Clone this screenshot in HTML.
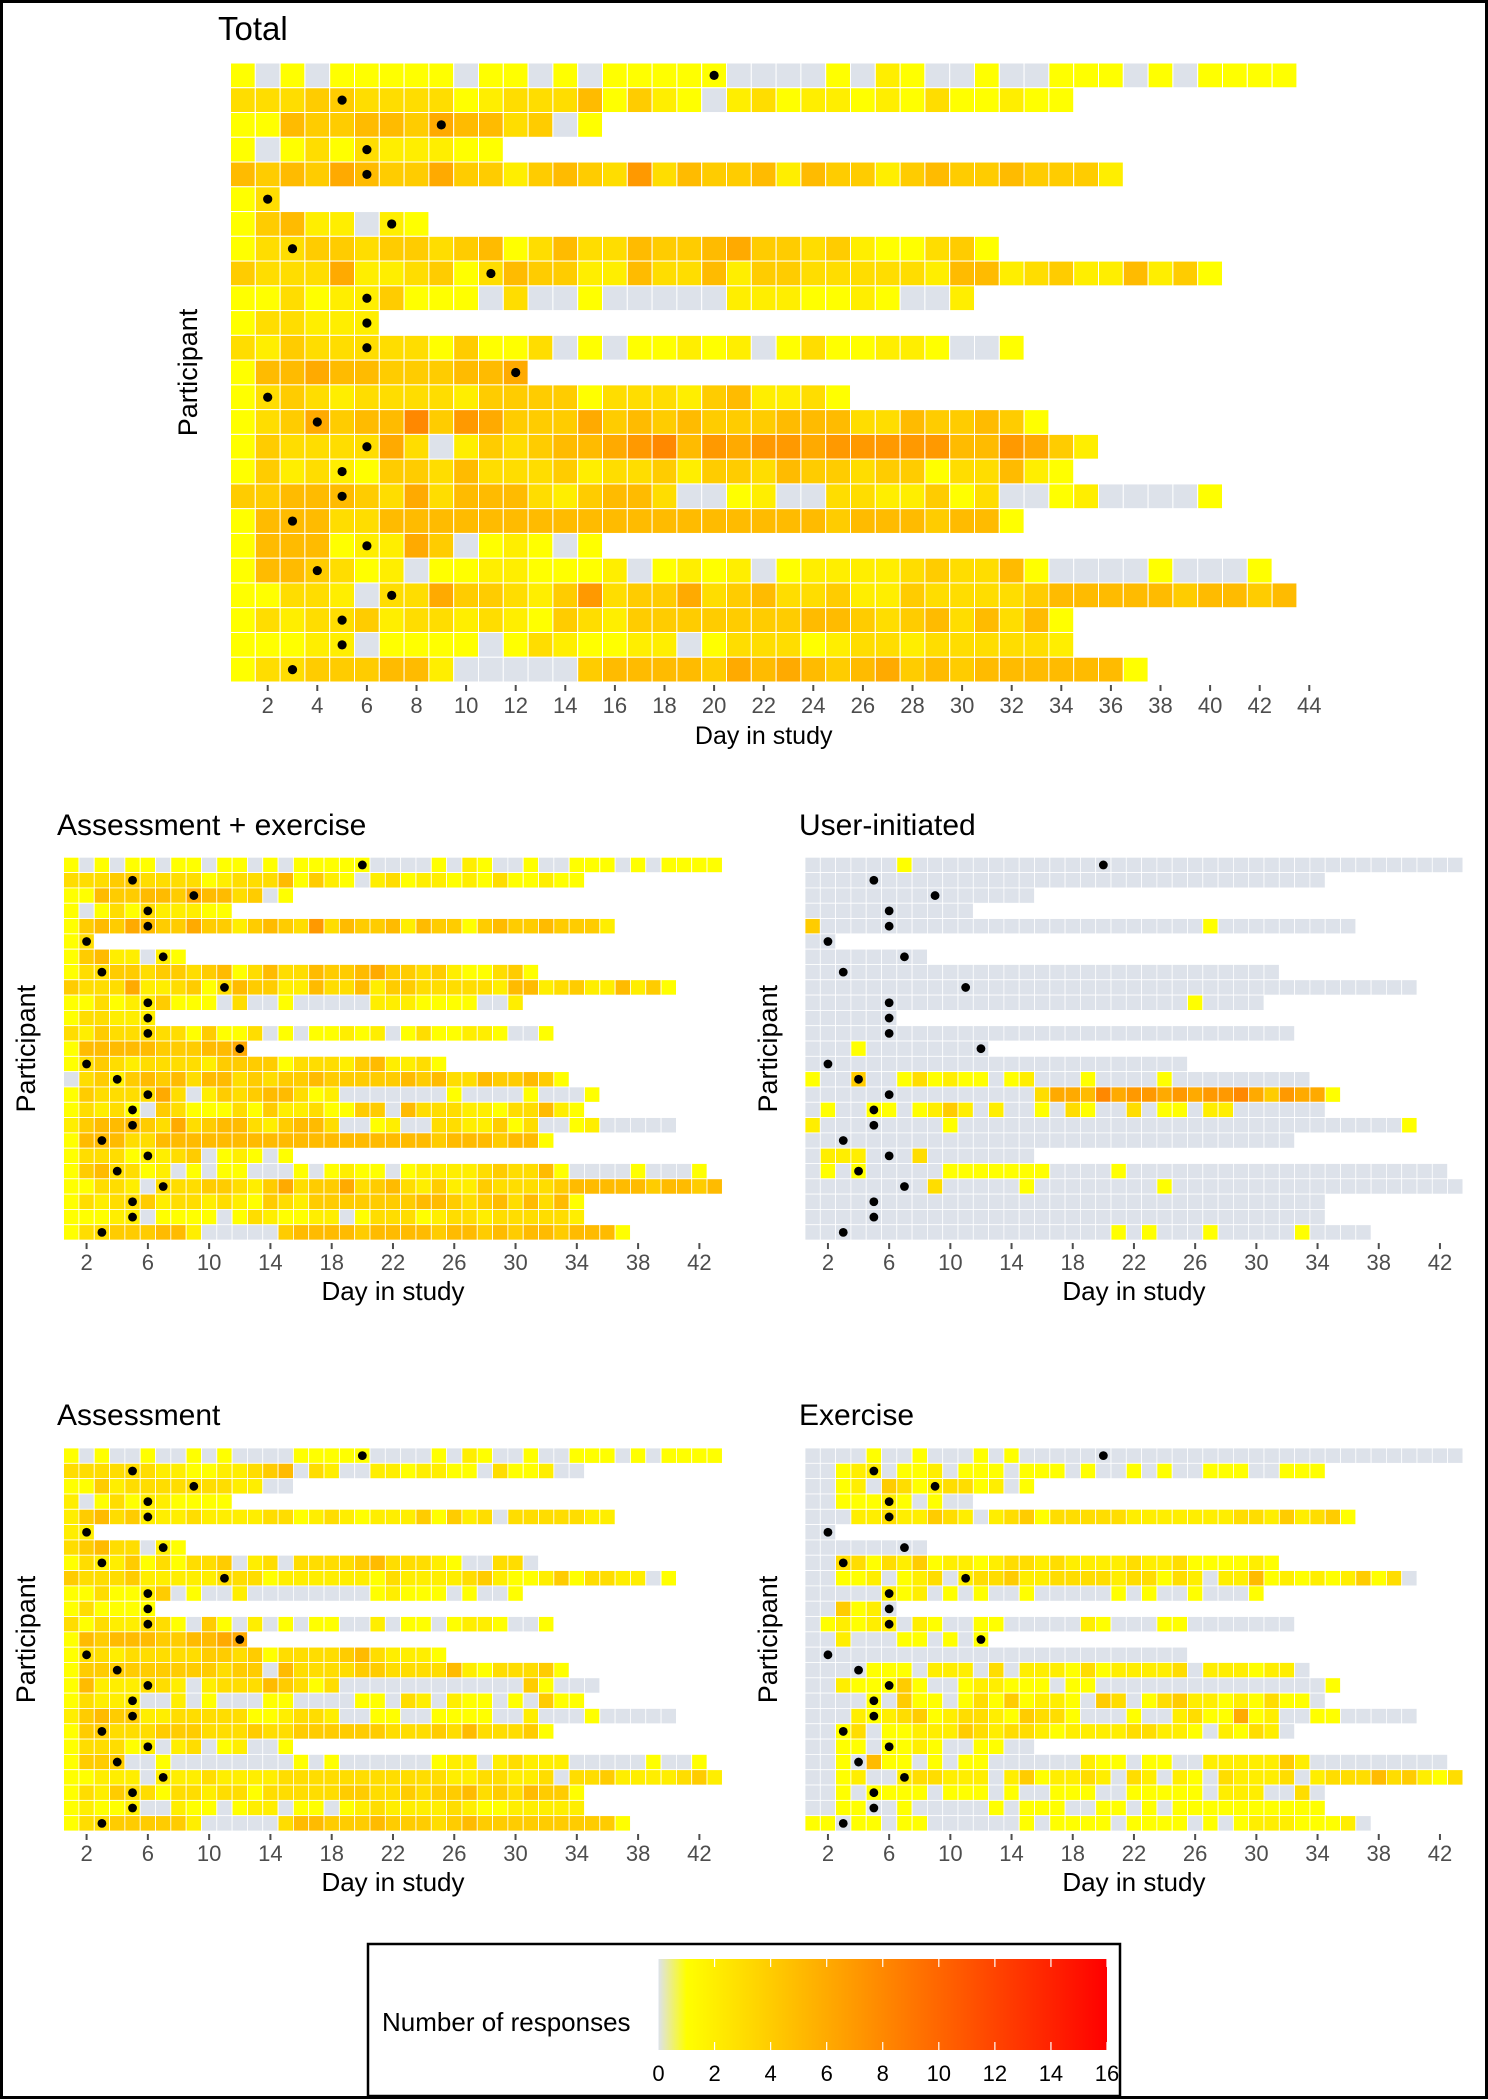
<!DOCTYPE html>
<html><head><meta charset="utf-8"><style>
html,body{margin:0;padding:0;background:#fff;}
svg{display:block;font-family:"Liberation Sans",Arial,sans-serif;}
</style></head><body>
<svg id="chart" width="1488" height="2100" viewBox="0 0 1488 2100" xmlns="http://www.w3.org/2000/svg">
<rect x="1.5" y="1.5" width="1485" height="2096" fill="#fff" stroke="#000" stroke-width="3"/>
<g id="panels"></g>
<g id="legend">
  <defs>
    <linearGradient id="cbar" x1="0" x2="1" y1="0" y2="0">
      <stop offset="0" stop-color="#dde2ea"/>
      <stop offset="0.0625" stop-color="#ffff00"/>
      <stop offset="1" stop-color="#ff0000"/>
    </linearGradient>
  </defs>
  <rect x="368" y="1944" width="752" height="152" fill="#fff" stroke="#000" stroke-width="2.5"/>
  <text x="382" y="2031" font-size="26" fill="#000">Number of responses</text>
  <rect x="658.5" y="1959" width="448.5" height="91" fill="url(#cbar)"/>
  <g id="cbticks"></g>
</g>
</svg>
<script>
// ---- data ----
const dotDays=[20,5,9,6,6,2,7,3,11,6,6,6,12,2,4,6,5,5,3,6,4,7,5,5,3];
const totalRows=[
[1,0,1,0,1,1,1,1,1,0,1,1,0,1,0,1,1,1,1,1,0,0,0,0,1,0,2,1,0,0,1,0,0,1,1,1,0,1,0,1,1,1,1],
[3,3,3,4,4,3,3,3,3,1,2,3,3,3,5,1,4,2,1,0,2,3,1,2,2,1,2,1,3,1,1,2,1,1],
[1,1,5,4,4,5,5,4,6,5,5,3,4,0,1],
[1,0,1,3,1,3,2,2,2,1,1],
[5,4,5,4,6,5,4,4,6,4,4,2,4,5,4,3,7,3,5,4,4,5,2,5,4,4,2,4,5,4,4,5,4,4,4,2],
[1,3],
[1,4,5,2,2,0,2,1],
[1,3,3,4,4,3,4,4,3,4,5,1,3,5,3,3,5,4,4,5,6,4,4,3,4,2,1,1,3,4,1],
[4,3,3,3,6,2,2,3,4,1,3,5,4,4,2,2,5,3,3,5,2,4,4,3,3,3,3,3,2,5,5,2,3,4,2,2,5,2,4,1],
[1,1,3,1,2,2,4,1,1,1,0,3,0,0,1,0,0,0,0,0,2,2,2,1,1,2,1,0,0,2],
[1,3,3,2,2,2],
[3,2,4,3,3,3,3,3,1,4,1,1,3,0,1,0,1,1,2,1,2,0,1,3,1,1,2,2,1,0,0,1],
[1,5,5,6,5,5,4,4,4,5,5,6],
[1,3,4,3,2,3,3,3,3,2,4,4,4,4,1,3,3,3,2,4,5,2,2,3,1],
[1,3,4,6,4,5,5,8,4,7,6,4,4,4,6,4,5,4,5,4,4,4,5,5,5,3,3,5,4,4,5,4,1],
[1,4,3,3,3,3,6,3,0,2,4,3,4,5,5,6,7,8,5,7,6,7,7,6,7,7,7,7,7,5,5,7,6,4,2],
[1,4,2,3,2,1,4,4,3,5,3,3,3,4,2,3,3,4,2,4,4,3,5,4,4,3,4,4,1,3,3,5,2,1],
[4,4,5,5,5,4,3,6,3,5,5,5,3,2,4,5,5,3,0,0,1,2,0,0,3,3,2,2,4,1,3,0,0,1,2,0,0,0,0,1],
[1,5,5,5,3,3,5,5,5,5,5,5,5,5,5,5,5,5,5,5,5,5,5,5,4,5,5,5,4,5,5,1],
[1,5,5,5,1,2,2,6,4,0,1,2,1,0,1],
[1,5,5,4,3,1,2,0,1,1,2,2,1,1,1,2,0,1,2,1,2,0,1,2,2,2,2,3,4,3,3,5,1,0,0,0,0,1,0,0,0,1],
[1,1,3,3,2,0,3,3,6,4,4,3,2,4,7,3,4,4,6,3,4,5,3,3,4,2,2,4,3,3,3,3,4,5,5,5,5,5,4,5,5,4,5],
[1,3,2,3,3,4,2,3,3,2,3,2,1,4,3,2,4,4,4,4,4,4,4,5,5,4,3,4,5,3,5,3,5,1],
[1,1,1,2,2,0,1,1,1,1,0,1,3,2,1,1,2,2,0,1,3,3,3,1,2,3,3,2,3,3,3,3,3,2],
[1,3,3,4,4,4,5,5,2,0,0,0,0,0,4,5,5,5,5,4,6,5,6,5,4,5,6,4,5,4,5,5,5,5,5,5,1]
];
// user-initiated: sparse (row index, day, value)
const uiRow=[0,4,4,9,12,14,14,14,14,14,14,14,14,14,14,14,14,15,15,15,15,15,15,15,15,15,15,15,15,15,15,15,15,15,15,15,15,16,16,16,16,16,16,16,16,16,16,16,16,16,16,16,16,17,17,17,19,19,19,19,20,20,20,20,20,20,20,20,20,20,21,21,21,24,24,24,24];
const uiDay=[7,1,27,26,4,1,4,7,8,9,10,11,12,14,15,19,24,16,17,18,19,20,21,22,23,24,25,26,27,28,29,30,31,32,33,34,35,2,5,6,8,9,10,11,13,16,18,19,22,24,25,27,28,1,10,40,2,3,4,8,2,4,10,11,12,13,14,15,16,21,9,15,24,21,23,27,33];
const uiVal=[1,4,1,1,1,1,4,1,3,1,2,1,1,1,2,1,1,3,6,6,5,8,6,7,7,6,7,6,7,7,8,6,4,7,6,6,1,1,1,1,1,2,4,2,2,1,3,1,3,1,1,2,2,2,1,1,2,2,2,3,1,1,1,1,1,1,1,1,1,1,3,1,1,1,1,1,1];
const assessRows=[
[1,0,1,0,0,1,0,0,1,0,1,0,0,0,0,1,1,1,1,1,0,0,0,0,1,0,2,1,0,0,1,0,0,1,1,1,0,1,0,1,1,1,1],
[3,3,3,3,3,3,2,2,1,1,2,2,3,4,5,0,3,2,0,0,2,2,1,2,2,1,1,0,3,1,1,2,0,0],
[1,1,4,2,3,3,3,3,3,3,3,2,2,0,0],
[2,0,1,3,1,2,2,1,1,1,1],
[2,4,5,3,4,2,2,2,3,2,2,2,2,3,3,1,2,3,2,1,2,2,2,4,1,4,2,3,0,3,3,3,3,3,2,2],
[2,2],
[3,4,5,3,3,0,2,1],
[1,3,2,2,4,1,3,1,3,3,4,0,2,3,0,3,3,3,3,4,5,3,3,3,2,1,0,0,3,3,0],
[4,3,3,3,4,2,2,2,2,2,3,3,3,1,2,2,2,2,2,2,1,3,2,2,2,2,3,4,2,1,1,2,4,1,3,3,2,2,0,1],
[1,1,3,1,1,2,4,0,1,0,0,2,0,0,0,0,0,0,0,0,1,2,1,1,1,0,1,0,0,1],
[1,3,1,1,1,1],
[3,1,3,2,2,3,3,1,0,4,1,0,2,0,1,0,1,1,0,0,2,0,1,1,0,1,2,2,1,0,0,1],
[1,5,4,5,5,5,4,4,5,5,6,6],
[1,3,3,2,3,3,3,3,3,4,4,3,4,1,3,3,3,3,4,5,3,2,2,2,1],
[1,4,4,4,4,4,4,4,4,4,3,4,4,0,5,3,3,3,3,4,4,3,3,3,3,5,2,1,3,3,3,4,1],
[1,5,2,2,2,3,3,2,0,2,3,3,3,5,4,3,1,3,0,0,0,0,0,0,0,0,0,0,0,0,4,1,0,0,0],
[1,3,2,2,2,0,0,2,0,1,0,0,0,1,1,0,0,0,0,1,1,0,3,2,0,2,1,1,0,1,0,4,1,1],
[2,4,5,4,4,2,2,3,3,3,3,3,1,1,2,3,3,2,0,0,1,1,0,0,1,1,1,1,0,0,2,0,0,0,1,0,0,0,0,0],
[1,4,4,3,3,3,4,4,4,3,3,3,4,3,3,4,4,4,4,4,4,3,3,3,4,3,5,3,3,3,4,1],
[1,3,3,3,1,2,0,2,3,0,1,2,0,0,1],
[1,4,4,4,0,0,1,0,0,0,0,0,0,0,0,1,0,1,0,0,0,0,0,0,1,2,2,0,2,3,2,2,2,0,0,0,0,0,1,0,0,1],
[1,1,2,2,2,0,2,2,2,3,2,2,2,2,3,3,3,3,3,3,3,3,3,3,3,2,2,3,3,2,2,3,0,3,3,4,2,2,2,2,3,4,2],
[1,3,2,4,3,3,1,3,3,2,3,3,1,3,3,3,3,3,4,4,3,3,4,3,4,4,5,3,4,3,5,4,4,1],
[1,2,1,1,2,0,0,2,1,1,0,1,2,2,0,1,1,0,1,2,3,2,2,2,2,3,2,1,1,2,2,2,2,2],
[1,3,3,4,4,4,4,4,2,0,0,0,0,0,3,5,5,4,4,4,5,4,4,4,3,4,5,4,4,4,4,4,4,4,4,4,1]
];
const exerciseRows=[
[0,0,0,0,1,0,0,1,0,0,0,1,0,1,0,0,0,0,0,0,0,0,0,0,0,0,0,0,0,0,0,0,0,0,0,0,0,0,0,0,0,0,0],
[0,0,1,2,2,0,1,1,2,0,1,1,1,0,1,1,1,0,1,0,0,1,0,1,0,0,1,1,1,0,0,1,1,1],
[0,0,1,2,0,4,3,1,2,3,3,1,2,0,1],
[0,0,1,1,1,2,1,0,1,0,0],
[0,0,0,2,2,3,2,2,4,3,2,0,2,3,4,1,3,3,3,3,3,2,2,2,2,2,2,2,3,3,2,4,2,3,4,1],
[0,0],
[0,0,0,0,0,0,0,0],
[0,0,3,3,1,3,2,4,1,2,2,1,2,3,3,2,3,2,2,2,2,3,2,2,3,1,1,1,1,2,1],
[0,0,1,1,2,0,1,2,3,0,2,3,3,4,2,2,3,3,3,3,2,3,3,1,3,2,0,2,2,5,1,2,1,2,1,2,4,1,3,0],
[0,0,0,0,0,2,1,2,0,1,0,1,0,0,1,0,0,0,0,0,1,0,1,0,0,1,0,0,0,1],
[0,0,4,1,2,0],
[0,1,2,1,2,2,0,2,1,0,0,1,1,0,0,0,0,0,2,1,0,0,0,1,1,0,0,0,0,0,0,0],
[0,0,2,0,0,0,1,1,0,1,0,1],
[0,0,0,0,0,0,0,0,0,0,0,0,0,0,0,0,0,0,0,0,0,0,0,0,0],
[0,0,0,0,1,1,1,0,2,2,2,0,3,0,2,2,2,1,3,1,2,2,2,2,3,0,2,2,2,1,2,2,0],
[0,0,2,1,1,1,4,1,0,0,1,2,2,1,1,1,0,1,1,0,0,0,0,0,0,0,0,0,0,0,0,0,0,0,1],
[0,0,0,0,1,0,4,1,1,0,1,3,1,4,1,2,2,1,0,4,3,0,1,3,4,2,2,1,2,1,3,1,1,0],
[0,0,0,2,1,2,3,4,1,2,3,3,2,1,4,3,3,1,0,0,0,1,0,0,2,3,1,1,6,1,2,0,0,1,1,0,0,0,0,0],
[0,0,1,3,0,1,1,2,2,2,4,3,2,3,3,2,1,2,2,2,2,3,3,2,2,1,0,2,1,3,2,0],
[0,0,1,1,0,1,1,2,1,0,0,1,1,0,0],
[0,0,1,0,5,1,1,0,1,0,1,1,0,0,0,0,0,0,2,1,1,0,1,1,0,0,2,2,2,2,2,4,2,0,0,0,0,0,0,0,0,0],
[0,0,1,2,0,0,2,3,3,2,2,2,0,2,4,1,2,2,3,2,0,3,2,0,2,1,0,3,2,2,2,3,0,2,3,3,3,5,3,4,2,1,3],
[0,0,1,0,1,1,1,1,0,1,1,1,0,1,0,0,1,1,1,0,0,1,1,1,1,1,0,2,2,2,0,0,3,0],
[0,0,1,1,0,0,1,0,0,0,0,0,1,0,1,1,1,0,0,1,1,0,1,0,1,1,1,1,1,1,1,1,1,1],
[1,1,0,1,1,0,1,1,0,0,0,0,0,0,1,0,1,1,1,1,0,1,1,1,1,0,1,0,1,2,2,2,1,1,1,2,0]
];
const totalTicks=[2,4,6,8,10,12,14,16,18,20,22,24,26,28,30,32,34,36,38,40,42,44];
const subTicks=[2,6,10,14,18,22,26,30,34,38,42];
const legendTicks=[0,2,4,6,8,10,12,14,16];

// ---- derived matrices ----
const userRows=totalRows.map(r=>r.map(()=>0));
for(let i=0;i<uiRow.length;i++){ if(uiDay[i]-1<userRows[uiRow[i]].length) userRows[uiRow[i]][uiDay[i]-1]=uiVal[i]; }
const aeRows=totalRows.map((r,i)=>r.map((v,j)=>Math.max(0,v-userRows[i][j])));

const NS="http://www.w3.org/2000/svg";
function mk(tag,attrs,parent){const e=document.createElementNS(NS,tag);for(const k in attrs)e.setAttribute(k,attrs[k]);parent.appendChild(e);return e;}
function color(v){ if(v<=0) return "#dde2ea"; const g=Math.max(0,Math.round(255*(16-v)/15)); return "rgb(255,"+g+",0)"; }

function panel(opt){
  const root=document.getElementById('panels');
  const g=mk('g',{},root);
  
  
  const nR=opt.rows.length;
  const xs=d=>opt.x0+(d-1)*opt.cw;
  const ys=r=>opt.y0+r*opt.ch;
  opt.rows.forEach((row,r)=>{
    row.forEach((v,j)=>{
      const c=mk('rect',{x:xs(j+1),y:ys(r),width:opt.cw,height:opt.ch,fill:color(v),stroke:'#fff','stroke-width':opt.sw},g);
      
      
    });
    const d=dotDays[r];
    const dot=mk('ellipse',{cx:xs(d)+opt.cw/2,cy:ys(r)+opt.ch/2,rx:opt.dr,ry:opt.dr,fill:'#000'},g);
    
    
  });
  const bottom=ys(nR);
  opt.ticks.forEach(t=>{
    const cx=xs(t)+opt.cw/2;
    const tk=mk('line',{x1:cx,x2:cx,y1:bottom+3,y2:bottom+9,stroke:'#4d4d4d','stroke-width':2},g);
    
    
    const tl=mk('text',{x:cx,y:bottom+opt.tly,'text-anchor':'middle','font-size':opt.tfs,fill:'#4d4d4d'},g);
    tl.textContent=t;
    
    
  });
  const xt=mk('text',{x:opt.x0+opt.cw*opt.ncol/2,y:bottom+opt.xty,'text-anchor':'middle','font-size':opt.xfs,fill:'#000'},g);
  xt.textContent='Day in study';
  
  
  const cy=opt.y0+opt.ch*nR/2;
  const yt=mk('text',{x:opt.ylx,y:cy,'text-anchor':'middle','font-size':opt.yfs,fill:'#000',transform:'rotate(-90 '+opt.ylx+' '+cy+')','dominant-baseline':'central'},g);
  yt.textContent='Participant';
  
  
  const ti=mk('text',{x:opt.tx,y:opt.ty,'font-size':opt.titfs,fill:'#000'},g);
  ti.textContent=opt.title;
  
  
}

panel({name:'total',title:'Total',rows:totalRows,x0:230.5,y0:63,cw:24.8,ch:24.76,ncol:43,sw:1,dr:4.6,ticks:totalTicks,tly:31,tfs:22,xty:62,xfs:25,ylx:188,yfs:27,tx:218,ty:40,titfs:33});
panel({name:'assessment-exercise',title:'Assessment + exercise',rows:aeRows,x0:63.6,y0:857.3,cw:15.32,ch:15.31,ncol:43,sw:0.8,dr:4.4,ticks:subTicks,tly:30,tfs:22,xty:60,xfs:26,ylx:26,yfs:27,tx:57,ty:835,titfs:30});
panel({name:'user-initiated',title:'User-initiated',rows:userRows,x0:805,y0:857.3,cw:15.3,ch:15.31,ncol:43,sw:0.8,dr:4.4,ticks:subTicks,tly:30,tfs:22,xty:60,xfs:26,ylx:768,yfs:27,tx:799,ty:835,titfs:30});
panel({name:'assessment',title:'Assessment',rows:assessRows,x0:63.6,y0:1448,cw:15.32,ch:15.32,ncol:43,sw:0.8,dr:4.4,ticks:subTicks,tly:30,tfs:22,xty:60,xfs:26,ylx:26,yfs:27,tx:57,ty:1425,titfs:30});
panel({name:'exercise',title:'Exercise',rows:exerciseRows,x0:805,y0:1448,cw:15.3,ch:15.32,ncol:43,sw:0.8,dr:4.4,ticks:subTicks,tly:30,tfs:22,xty:60,xfs:26,ylx:768,yfs:27,tx:799,ty:1425,titfs:30});

const cb=document.getElementById('cbticks');
const lx=v=>658.5+v*(448.5/16);
legendTicks.forEach(v=>{
  if(v>0){
    const a=mk('line',{x1:lx(v),x2:lx(v),y1:1959,y2:1967,stroke:'#fff','stroke-width':1.2},cb);
    
    
    const b=mk('line',{x1:lx(v),x2:lx(v),y1:2042,y2:2050,stroke:'#fff','stroke-width':1.2},cb);
    
    
  }
  const t=mk('text',{x:lx(v),y:2081,'text-anchor':'middle','font-size':22,fill:'#000'},cb);
  t.textContent=v;
  
  
});
</script>
</body></html>
